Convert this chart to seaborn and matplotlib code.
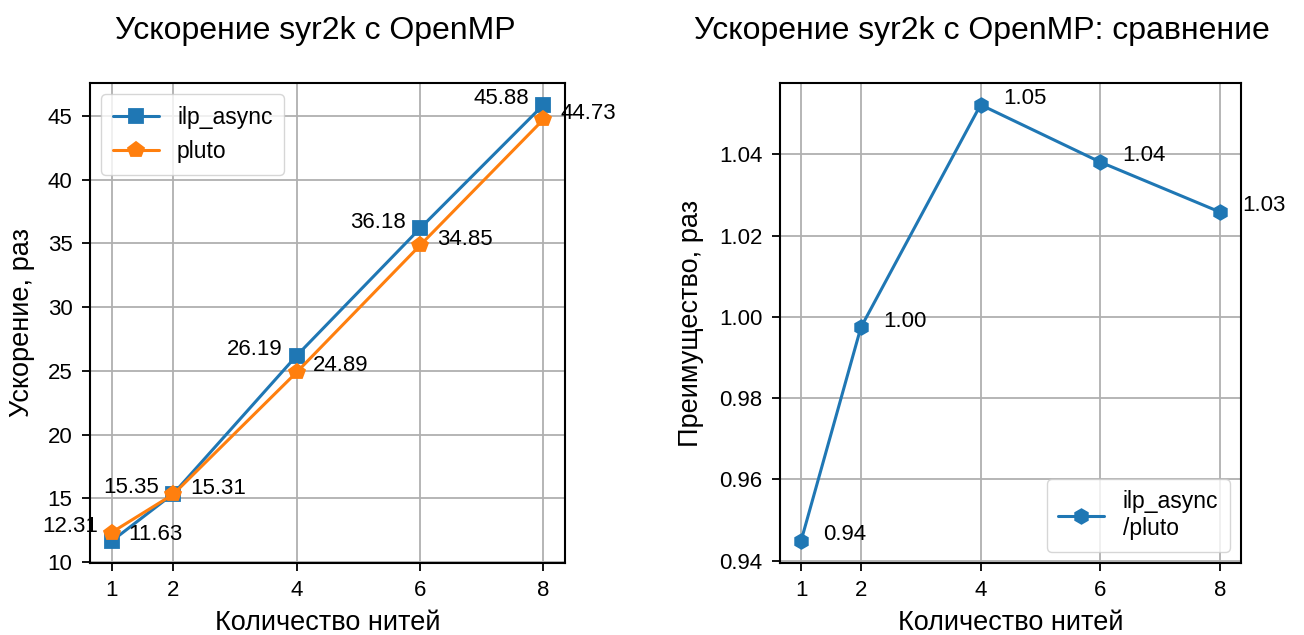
import numpy as np
import pandas as pd
import matplotlib
matplotlib.use("Agg")
import matplotlib.pyplot as plt
import seaborn as sns

threads = [1, 2, 4, 6, 8]
ilp_async = [11.63, 15.35, 26.19, 36.18, 45.88]
pluto = [12.31, 15.31, 24.89, 34.85, 44.73]
ratio = [0.9448, 0.9974, 1.0522, 1.0381, 1.0258]

sns.set_style("ticks")
plt.rcParams['font.family'] = ['Liberation Sans', 'DejaVu Sans']
plt.rcParams['axes.grid'] = True
plt.rcParams['grid.color'] = '#b0b0b0'
plt.rcParams['grid.linewidth'] = 1.3
for k in ['text.color', 'axes.labelcolor', 'xtick.color', 'ytick.color', 'axes.edgecolor']:
    plt.rcParams[k] = 'black'

fig = plt.figure(figsize=(13.04, 6.35), dpi=100)
ax1 = fig.add_axes([0.0690, 0.1134, 0.3643, 0.7559])
ax2 = fig.add_axes([0.5982, 0.1134, 0.3535, 0.7559])

blue = '#1f77b4'
orange = '#ff7f0e'
df = pd.DataFrame({'threads': threads, 'ilp_async': ilp_async, 'pluto': pluto, 'ratio': ratio})

sns.lineplot(data=df, x='threads', y='ilp_async', ax=ax1, color=blue, marker='s',
             markersize=10.5, markeredgewidth=1.3, markeredgecolor=blue, linewidth=2.2, label='ilp_async')
sns.lineplot(data=df, x='threads', y='pluto', ax=ax1, color=orange, marker='p',
             markersize=11.5, markeredgewidth=1.3, markeredgecolor=orange, linewidth=2.2, label='pluto')

fs = 16
for x, a, p in zip(threads, ilp_async, pluto):
    hi, lo = (a, p) if a >= p else (p, a)
    ax1.annotate(f"{hi:.2f}", (x, hi), xytext=(-10, 4.5), textcoords='offset points',
                 ha='right', va='center', fontsize=fs)
    ax1.annotate(f"{lo:.2f}", (x, lo), xytext=(12, 4.5), textcoords='offset points',
                 ha='left', va='center', fontsize=fs)

ax1.set_xticks(threads)
ax1.set_title("Ускорение syr2k с OpenMP", fontsize=23, pad=32, x=0.474)
ax1.set_xlabel("Количество нитей", fontsize=19.5, labelpad=6)
ax1.set_ylabel("Ускорение, раз", fontsize=19.5, labelpad=9)
ax1.legend(loc='upper left', fontsize=16.5, borderpad=0.5)

sns.lineplot(data=df, x='threads', y='ratio', ax=ax2, color=blue, marker='h',
             markersize=10.5, markeredgewidth=1.3, markeredgecolor=blue, linewidth=2.2,
             label='ilp_async\n/pluto')
for x, r in zip(threads, ratio):
    ax2.annotate(f"{r:.2f}", (x, r), xytext=(16, 4.5), textcoords='offset points',
                 ha='left', va='center', fontsize=fs)
ax2.set_xticks(threads)
ax2.set_title("Ускорение syr2k с OpenMP: сравнение", fontsize=23, pad=32, x=0.438)
ax2.set_xlabel("Количество нитей", fontsize=19.5, labelpad=6)
ax2.set_ylabel("Преимущество, раз", fontsize=19.5, labelpad=11)
ax2.legend(loc='lower right', fontsize=16.5, borderpad=0.5)

for ax in (ax1, ax2):
    ax.tick_params(labelsize=16, length=5.5, width=1.3, pad=7)
    for s in ax.spines.values():
        s.set_linewidth(1.5)
        s.set_color('black')

fig.savefig("out.png", dpi=100)
